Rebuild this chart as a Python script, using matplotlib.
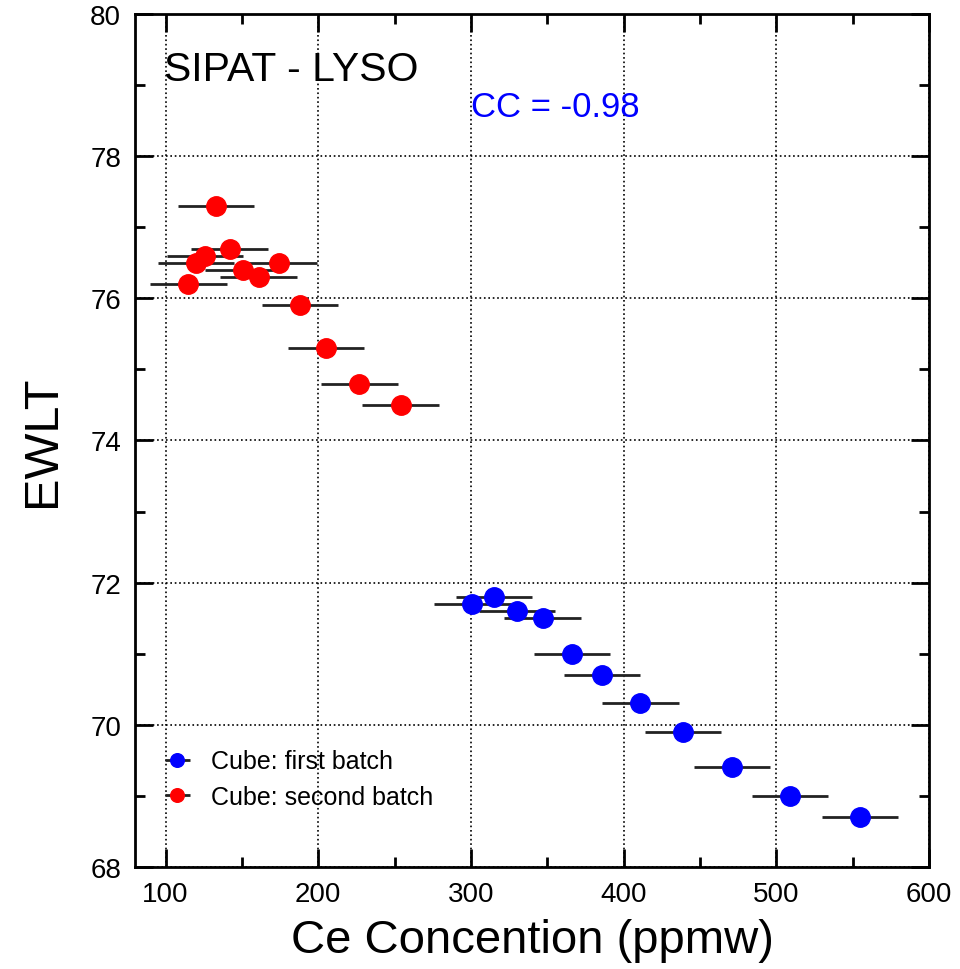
import numpy as np
import matplotlib
matplotlib.use('Agg')
import matplotlib.pyplot as plt
from matplotlib.ticker import MultipleLocator

plt.rcParams['font.family'] = ['Liberation Sans', 'DejaVu Sans']

# first batch (blue)
ce_first = [301, 315, 330, 347, 366, 386, 411, 439, 471, 509, 555]
ewlt_first = [71.7, 71.8, 71.6, 71.5, 71.0, 70.7, 70.3, 69.9, 69.4, 69.0, 68.7]
# second batch (red)
ce_second = [133, 142, 126, 120, 174, 151, 161, 115, 188, 205, 227, 254]
ewlt_second = [77.3, 76.7, 76.6, 76.5, 76.5, 76.4, 76.3, 76.2, 75.9, 75.3, 74.8, 74.5]
ce_err = 25

fig = plt.figure(figsize=(9.6, 9.7), dpi=100)
ax = fig.add_axes([0.1406, 0.1052, 0.8271, 0.8793])

ax.grid(True, which='major', linestyle=':', color='black', linewidth=1.2)
ax.set_axisbelow(True)

ax.errorbar(ce_first, ewlt_first, xerr=ce_err, fmt='o', color='blue',
            ecolor='#222222', elinewidth=2, markersize=14, capsize=0,
            label='Cube: first batch', zorder=3)
ax.errorbar(ce_second, ewlt_second, xerr=ce_err, fmt='o', color='red',
            ecolor='#222222', elinewidth=2, markersize=14, capsize=0,
            label='Cube: second batch', zorder=3)

ax.set_xlim(80, 600)
ax.set_ylim(68, 80)
ax.xaxis.set_major_locator(MultipleLocator(100))
ax.xaxis.set_minor_locator(MultipleLocator(50))
ax.yaxis.set_major_locator(MultipleLocator(2))
ax.yaxis.set_minor_locator(MultipleLocator(1))
ax.tick_params(which='both', direction='in', top=True, right=True, width=2)
ax.tick_params(which='major', length=13, labelsize=20, pad=10)
ax.tick_params(which='minor', length=7)
for s in ax.spines.values():
    s.set_linewidth(2)

ax.set_xlabel('Ce Concention (ppmw)', fontsize=34, labelpad=8)
ax.set_ylabel('EWLT', fontsize=35, labelpad=18)

ax.text(0.036, 0.935, 'SIPAT - LYSO', transform=ax.transAxes, fontsize=29.5,
        va='center', ha='left')
ax.text(0.423, 0.892, 'CC = -0.98', transform=ax.transAxes, fontsize=25,
        color='blue', va='center', ha='left')

ax.legend(loc='lower left', bbox_to_anchor=(-0.008, 0.042), frameon=False,
          fontsize=18, handlelength=2.1, markerscale=0.7, labelspacing=0.45,
          handletextpad=0.3)

fig.savefig('out.png', dpi=100)
